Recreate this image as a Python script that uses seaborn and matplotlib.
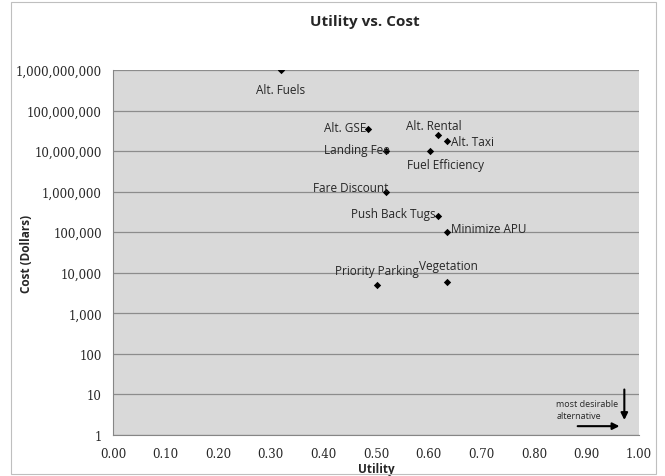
import numpy as np
import pandas as pd
import matplotlib.pyplot as plt
import matplotlib.ticker as mticker
from matplotlib.patches import Rectangle
import seaborn as sns

# ── Data ──────────────────────────────────────────────────────────────────────
names   = ['Alt. Fuels', 'Alt. GSE', 'Alt. Rental', 'Alt. Taxi', 'Landing Fee',
           'Fuel Efficiency', 'Fare Discount', 'Push Back Tugs', 'Minimize APU',
           'Priority Parking', 'Vegetation']
utility = [0.319, 0.485, 0.618, 0.635, 0.519, 0.603, 0.519, 0.618, 0.635, 0.502, 0.635]
cost    = [1.0e9, 3.6e7, 2.5e7, 1.75e7, 1.0e7, 1.0e7, 1.0e6, 2.5e5, 1.0e5, 5.0e3, 6.0e3]
cost_ticks = [1, 10, 100, 1e3, 1e4, 1e5, 1e6, 1e7, 1e8, 1e9]

# label offsets (points) and alignment for Excel-style data labels
label_pos = {
    'Alt. Fuels':       (0, -9, 'center', 'top'),
    'Alt. GSE':         (-1, 1, 'right', 'center'),
    'Alt. Rental':      (-3, 2, 'center', 'bottom'),
    'Alt. Taxi':        (3, 0, 'left', 'center'),
    'Landing Fee':      (3, 1, 'right', 'center'),
    'Fuel Efficiency':  (11, -5, 'center', 'top'),
    'Fare Discount':    (2, 3, 'right', 'center'),
    'Push Back Tugs':   (-2, 2, 'right', 'center'),
    'Minimize APU':     (3, 3, 'left', 'center'),
    'Priority Parking': (0, 6, 'center', 'bottom'),
    'Vegetation':       (1, 7, 'center', 'bottom'),
}

df = pd.DataFrame({'Utility': utility, 'Cost': cost, 'Name': names})

sns.set_style('white')
fig = plt.figure(figsize=(6.65, 4.77), dpi=100)
ax = fig.add_axes([0.170, 0.086, 0.791, 0.765])
ax.set_facecolor('#D9D9D9')

sns.scatterplot(data=df, x='Utility', y='Cost', ax=ax, marker='D', s=14,
                color='black', edgecolor='black', linewidth=0, zorder=3)

for n, x, y in zip(names, utility, cost):
    dx, dy, ha, va = label_pos[n]
    ax.annotate(n, (x, y), xytext=(dx, dy), textcoords='offset points',
                ha=ha, va=va, fontsize=8.5, family='Open Sans', zorder=4)

ax.set_yscale('log')
ax.set_ylim(1, 1e9)
ax.set_xlim(0, 1)
ax.set_xticks(np.arange(0, 1.01, 0.1))
ax.xaxis.set_major_formatter(mticker.FormatStrFormatter('%.2f'))
ax.yaxis.set_major_locator(mticker.FixedLocator(cost_ticks))
ax.yaxis.set_minor_locator(mticker.NullLocator())
ax.yaxis.set_major_formatter(mticker.FuncFormatter(lambda v, p: f'{v:,.0f}'))
ax.grid(axis='y', color='#8C8C8C', linewidth=0.9)
ax.set_axisbelow(True)
for s in ['top', 'right']:
    ax.spines[s].set_visible(False)
for s in ['left', 'bottom']:
    ax.spines[s].set_color('#868686')
ax.tick_params(axis='both', which='major', direction='out', length=4,
               color='#868686', pad=4)
ax.tick_params(axis='x', pad=5)
for lab in ax.get_xticklabels() + ax.get_yticklabels():
    lab.set_family('DejaVu Serif')
    lab.set_fontsize(8.5)

ax.set_xlabel('Utility', fontsize=8.5, fontweight='bold', family='Open Sans', va='center')
ax.set_ylabel('Cost (Dollars)', fontsize=8.5, fontweight='bold', family='Open Sans')
ax.xaxis.set_label_coords(0.5, -0.091)
ax.yaxis.set_label_coords(-0.153, 0.5)
fig.text(0.548, 0.953, 'Utility vs. Cost', ha='center', va='center',
         fontsize=11, fontweight='bold', family='Open Sans')

# "most desirable alternative" annotation
ax.annotate('', xy=(0.968, 1.65), xytext=(0.878, 1.65),
            arrowprops=dict(arrowstyle='-|>', color='black', lw=1.5, mutation_scale=10))
ax.annotate('', xy=(0.972, 2.0), xytext=(0.972, 15.5),
            arrowprops=dict(arrowstyle='-|>', color='black', lw=1.5, mutation_scale=10))
ax.text(0.843, 4.2, 'most desirable\nalternative', ha='left', va='center',
        fontsize=6.5, family='Open Sans', linespacing=1.4)

fig.patches.append(Rectangle((0.017, 0.004), 0.97, 0.99, transform=fig.transFigure,
                             fill=False, edgecolor='#BFBFBF', linewidth=0.8))

plt.savefig('out.png', dpi=100)
plt.close()
